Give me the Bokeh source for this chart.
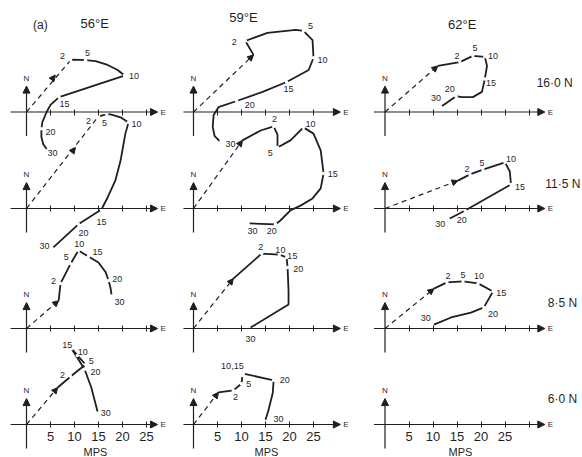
from bokeh.plotting import figure
from bokeh.layouts import row
from bokeh.models import Arrow, NormalHead, LinearAxis, FixedTicker
from bokeh.embed import file_html
from bokeh.resources import INLINE
from bokeh.core.properties import value

# ---------------- chart values (m/s) ----------------
longitudes = ["56°E", "59°E", "62°E"]
latitudes = ["16·0 N", "11·5 N", "8·5 N", "6·0 N"]
panel_tag = "(a)"
axis_unit = "MPS"
e_ticks = [5, 10, 15, 20, 25, 30]
e_tick_labels = ["5", "10", "15", "20", "25", ""]

# 56°E, 16·0 N
a1_dash = [9.2, 10.8]
a1_arrow = [6.0, 7.7]
a1_u = [9.2, 9.8, 12.3, 14.4, 16.9, 19.0, 20.4, 6.8, 5.0, 4.2, 3.3, 3.1, 3.1, 3.5, 4.2]
a1_v = [10.8, 10.9, 10.8, 10.6, 9.8, 8.75, 7.6, 3.1, 1.5, 0.0, -2.1, -3.5, -5.2, -6.7, -7.7]
a1_lev_u = [9.2, 12.3, 20.4, 6.8, 3.1, 4.2]
a1_lev_v = [10.8, 10.8, 7.6, 3.1, -3.5, -7.7]
a1_lab = ["2", "5", "10", "15", "20", "30"]
a1_lab_u = [7.5, 12.7, 22.4, 7.9, 5.0, 5.4]
a1_lab_v = [11.6, 12.3, 7.5, 1.7, -4.2, -8.6]

# 56°E, 11·5 N
a2_dash = [15.0, 19.2]
a2_arrow = [10.2, 12.7]
a2_u = [15.0, 16.7, 17.5, 19.6, 21.25, 20.6, 19.6, 18.5, 16.9, 15.6, 10.8, 5.6]
a2_v = [19.2, 19.6, 19.6, 19.0, 17.9, 15.6, 10.0, 5.8, 2.3, -0.2, -3.3, -8.1]
a2_lev_u = [15.0, 16.7, 21.25, 15.6, 10.8, 5.6]
a2_lev_v = [19.2, 19.6, 17.9, -0.2, -3.3, -8.1]
a2_lab = ["2", "5", "10", "15", "20", "30"]
a2_lab_u = [12.9, 16.25, 22.9, 15.6, 11.9, 3.75]
a2_lab_v = [18.3, 17.9, 17.7, -2.9, -5.2, -7.9]

# 56°E, 8·5 N
a3_dash = [6.7, 5.8]
a3_arrow = [6.7, 5.8]
a3_u = [6.7, 7.1, 9.2, 10.8, 12.9, 15.0, 16.5, 17.1, 17.5, 17.7]
a3_v = [5.8, 9.4, 13.5, 16.25, 15.0, 13.75, 11.7, 10.0, 8.5, 7.1]
a3_lev_u = [7.1, 9.2, 10.8, 12.9, 17.1, 17.7]
a3_lev_v = [9.4, 13.5, 16.25, 15.0, 10.0, 7.1]
a3_lab = ["2", "5", "10", "15", "20", "30"]
a3_lab_u = [5.6, 8.3, 11.0, 14.8, 18.9, 19.4]
a3_lab_v = [10.0, 14.8, 17.7, 16.0, 10.4, 5.6]

# 56°E, 6·0 N
a4_dash = [6.5, 7.7]
a4_arrow = [6.5, 7.7]
a4_u = [6.5, 9.2, 12.3, 10.6, 9.4, 12.1, 13.5, 14.8]
a4_v = [7.7, 10.0, 12.5, 14.4, 15.8, 11.5, 7.7, 2.7]
a4_lev_u = [9.2, 12.3, 10.6, 9.4, 12.1, 14.8]
a4_lev_v = [10.0, 12.5, 14.4, 15.8, 11.5, 2.7]
a4_lab = ["2", "5", "10", "15", "20", "30"]
a4_lab_u = [7.5, 13.5, 11.7, 8.5, 14.4, 16.5]
a4_lab_v = [10.4, 13.3, 15.2, 16.5, 11.0, 2.3]

# 59°E, 16·0 N
b1_dash = [12.5, 11.9]
b1_arrow = [12.5, 11.9]
b1_u = [12.5, 10.8, 15.4, 21.3, 22.9, 24.8, 25.0, 24.0, 19.4, 14.4, 9.0, 5.2, 4.2, 4.0, 4.4, 5.4]
b1_v = [11.9, 14.8, 16.5, 17.1, 16.9, 15.0, 11.3, 8.75, 6.25, 4.2, 2.3, 1.0, -0.6, -3.1, -5.0, -6.0]
b1_lev_u = [10.8, 22.9, 25.0, 19.4, 9.0, 5.4]
b1_lev_v = [14.8, 16.9, 11.3, 6.25, 2.3, -6.0]
b1_lab = ["2", "5", "10", "15", "20", "30"]
b1_lab_u = [8.5, 24.4, 26.9, 19.8, 11.7, 7.7]
b1_lab_v = [14.6, 17.9, 10.8, 4.8, 1.5, -6.7]

# 59°E, 11·5 N
b2_dash = [10.2, 14.2]
b2_arrow = [10.2, 14.2]
b2_u = [10.2, 14.0, 16.7, 17.5, 17.5, 20.2, 22.9, 25.0, 26.5, 27.1, 26.5, 24.8, 22.3, 20.2, 18.1, 17.1, 11.7]
b2_v = [14.2, 16.25, 17.1, 15.4, 12.7, 14.2, 16.9, 15.6, 12.1, 7.3, 4.2, 2.1, 0.6, -0.4, -2.5, -3.3, -3.1]
b2_lev_u = [16.7, 17.5, 22.9, 27.1, 17.1, 11.7]
b2_lev_v = [17.1, 12.7, 16.9, 7.3, -3.3, -3.1]
b2_lab = ["2", "5", "10", "15", "20", "30"]
b2_lab_u = [16.9, 16.0, 24.4, 29.0, 16.3, 12.3]
b2_lab_v = [18.6, 11.5, 17.7, 7.1, -4.6, -4.6]

# 59°E, 8·5 N
b3_dash = [8.3, 10.4]
b3_arrow = [8.3, 10.4]
b3_u = [8.3, 14.2, 17.9, 19.4, 19.6, 19.8, 19.8, 11.9]
b3_v = [10.4, 15.6, 15.4, 14.8, 12.7, 7.9, 5.0, 0.2]
b3_lev_u = [14.2, 17.9, 19.4, 19.6, 11.9]
b3_lev_v = [15.6, 15.4, 14.8, 12.7, 0.2]
b3_lab = ["2", "10", "15", "20", "30"]
b3_lab_u = [14.0, 18.1, 20.6, 21.8, 11.9]
b3_lab_v = [16.9, 16.4, 15.2, 12.5, -2.1]

# 59°E, 6·0 N
b4_dash = [5.2, 6.7]
b4_arrow = [5.2, 6.7]
b4_u = [5.2, 8.3, 10.0, 10.2, 10.4, 16.7, 16.5, 15.6, 15.0]
b4_v = [6.7, 7.1, 8.5, 10.2, 10.6, 9.2, 6.5, 2.9, 1.0]
b4_lev_u = [8.3, 10.0, 10.2, 10.4, 16.7, 15.0]
b4_lev_v = [7.1, 8.5, 10.2, 10.6, 9.2, 1.0]
b4_lab = ["2", "5", "10,15", "20", "30"]
b4_lab_u = [8.75, 11.5, 8.1, 19.0, 17.7]
b4_lab_v = [5.8, 8.5, 12.1, 9.2, 1.25]

# 62°E, 16·0 N
c1_dash = [11.0, 9.6]
c1_arrow = [11.0, 9.6]
c1_u = [11.0, 15.6, 18.3, 20.8, 21.25, 20.8, 20.2, 18.3, 16.0, 14.8, 11.9]
c1_v = [9.6, 10.4, 11.7, 11.5, 9.6, 6.9, 4.2, 3.1, 3.1, 3.3, 1.25]
c1_lev_u = [15.6, 18.3, 20.8, 20.8, 14.8, 11.9]
c1_lev_v = [10.4, 11.7, 11.5, 6.9, 3.3, 1.25]
c1_lab = ["2", "5", "10", "15", "20", "30"]
c1_lab_u = [15.0, 18.75, 22.5, 22.1, 13.5, 10.6]
c1_lab_v = [11.7, 13.3, 11.7, 6.0, 4.8, 2.9]

# 62°E, 11·5 N
c2_dash = [15.2, 5.8]
c2_arrow = [15.2, 5.8]
c2_u = [15.2, 17.7, 20.4, 25.0, 26.0, 26.25, 16.7, 13.5]
c2_v = [5.8, 7.1, 8.1, 9.6, 7.7, 5.0, -0.4, -2.1]
c2_lev_u = [17.7, 20.4, 25.0, 26.25, 16.7, 13.5]
c2_lev_v = [7.1, 8.1, 9.6, 5.0, -0.4, -2.1]
c2_lab = ["2", "5", "10", "15", "20", "30"]
c2_lab_u = [17.1, 20.2, 26.25, 28.1, 16.0, 11.5]
c2_lab_v = [8.3, 9.4, 10.4, 4.4, -2.3, -3.3]

# 62°E, 8·5 N
c3_dash = [10.2, 8.3]
c3_arrow = [10.2, 8.3]
c3_u = [10.2, 12.9, 16.25, 19.4, 22.5, 20.6, 17.9, 13.75, 10.2]
c3_v = [8.3, 9.6, 9.8, 9.4, 7.7, 4.4, 3.3, 2.3, 0.8]
c3_lev_u = [12.9, 16.25, 19.4, 22.5, 20.6, 10.2]
c3_lev_v = [9.6, 9.8, 9.4, 7.7, 4.4, 0.8]
c3_lab = ["2", "5", "10", "15", "20", "30"]
c3_lab_u = [13.1, 16.25, 19.6, 24.2, 22.5, 8.5]
c3_lab_v = [10.9, 11.1, 10.9, 7.5, 3.1, 2.1]

# 62°E, 6·0 N : axes only, no hodograph

panels = {
    (0, 0): (a1_dash, a1_arrow, a1_u, a1_v, a1_lev_u, a1_lev_v, a1_lab, a1_lab_u, a1_lab_v),
    (0, 1): (a2_dash, a2_arrow, a2_u, a2_v, a2_lev_u, a2_lev_v, a2_lab, a2_lab_u, a2_lab_v),
    (0, 2): (a3_dash, a3_arrow, a3_u, a3_v, a3_lev_u, a3_lev_v, a3_lab, a3_lab_u, a3_lab_v),
    (0, 3): (a4_dash, a4_arrow, a4_u, a4_v, a4_lev_u, a4_lev_v, a4_lab, a4_lab_u, a4_lab_v),
    (1, 0): (b1_dash, b1_arrow, b1_u, b1_v, b1_lev_u, b1_lev_v, b1_lab, b1_lab_u, b1_lab_v),
    (1, 1): (b2_dash, b2_arrow, b2_u, b2_v, b2_lev_u, b2_lev_v, b2_lab, b2_lab_u, b2_lab_v),
    (1, 2): (b3_dash, b3_arrow, b3_u, b3_v, b3_lev_u, b3_lev_v, b3_lab, b3_lab_u, b3_lab_v),
    (1, 3): (b4_dash, b4_arrow, b4_u, b4_v, b4_lev_u, b4_lev_v, b4_lab, b4_lab_u, b4_lab_v),
    (2, 0): (c1_dash, c1_arrow, c1_u, c1_v, c1_lev_u, c1_lev_v, c1_lab, c1_lab_u, c1_lab_v),
    (2, 1): (c2_dash, c2_arrow, c2_u, c2_v, c2_lev_u, c2_lev_v, c2_lab, c2_lab_u, c2_lab_v),
    (2, 2): (c3_dash, c3_arrow, c3_u, c3_v, c3_lev_u, c3_lev_v, c3_lab, c3_lab_u, c3_lab_v),
}

# ---------------- layout / style ----------------
INK = "#1f1f1f"
FONT = "Liberation Sans"
SCALE = 4.8                       # px per m/s
FIG_H = 457
fig_w = [180, 193, 209]
x_start = [-5.417, -2.708, -2.396]
y_start = -6.875
row_off = [65.1, 45.0, 20.0, 0.0]
e_left = [-3.3, -2.1, -2.3]
e_right = [27.3, 30.6, 33.3]
n_ticks = [5, 5, 6]
mps_mid = [14.4, 15.2, 15.7]
tag_pos = (2.9, 83.3)
head_pos = [(14.2, 83.5), (10.4, 84.8), (16.1, 83.3)]
lat_x = [31.6, 33.4, 33.9, 33.9]
lat_dy = [6.1, 5.2, 5.4, 5.4]


def txt(p, x, y, t, size, align="center", baseline="middle"):
    p.text(x=x, y=y, text=t, text_font=value(FONT), text_font_size=size,
           text_color=INK, text_align=align, text_baseline=baseline)


figs = []
for c in range(3):
    p = figure(width=fig_w[c], height=FIG_H,
               x_range=(x_start[c], x_start[c] + fig_w[c] / SCALE),
               y_range=(y_start, y_start + FIG_H / SCALE),
               x_axis_location=None, y_axis_location=None,
               toolbar_location=None, output_backend="svg",
               min_border=0, outline_line_color=None,
               background_fill_color="white", border_fill_color="white")
    for g in list(p.center):
        g.visible = False

    # column heading
    if c == 0:
        txt(p, [tag_pos[0]], [tag_pos[1]], [panel_tag], "12px")
    txt(p, [head_pos[c][0]], [head_pos[c][1]], [longitudes[c]], "13px")

    for r in range(4):
        yo = row_off[r]
        # E axis line with arrow
        p.add_layout(Arrow(x_start=e_left[c], y_start=yo, x_end=e_right[c], y_end=yo,
                           line_color=INK, line_width=1.2,
                           end=NormalHead(size=7, line_color=INK, fill_color=INK)))
        ticks = e_ticks[:n_ticks[c]]
        if r == 3:
            over = {t: l for t, l in zip(e_ticks, e_tick_labels)}
        else:
            over = {t: "" for t in e_ticks}
        ax = LinearAxis(fixed_location=yo, ticker=FixedTicker(ticks=ticks),
                        bounds=(0, 2 * mps_mid[c]),
                        major_label_overrides=over,
                        axis_line_color=None,
                        major_tick_in=3, major_tick_out=3,
                        major_tick_line_color=INK, major_tick_line_width=1,
                        minor_tick_line_color=None,
                        major_label_text_font=FONT,
                        major_label_text_font_size="13px",
                        major_label_text_color=INK,
                        major_label_standoff=4)
        if r == 3:
            ax.axis_label = axis_unit
            ax.axis_label_text_font = FONT
            ax.axis_label_text_font_size = "11px"
            ax.axis_label_text_font_style = "normal"
            ax.axis_label_text_color = INK
            ax.axis_label_standoff = 2
        p.add_layout(ax, "below")

        # N axis with arrow
        p.add_layout(Arrow(x_start=0, y_start=yo - 5.0, x_end=0, y_end=yo + 5.4,
                           line_color=INK, line_width=1.2,
                           end=NormalHead(size=7, line_color=INK, fill_color=INK)))
        txt(p, [0], [yo + 7.0], ["N"], "8px")
        txt(p, [e_right[c] + 0.6], [yo], ["E"], "8px", align="left")

        if c == 2:
            txt(p, [lat_x[r]], [yo + lat_dy[r]], [latitudes[r]], "12px", align="left")

        d = panels.get((c, r))
        if d is None:
            continue
        dash, arr, u, v, lu, lv, lab, lbu, lbv = d
        # surface-wind vector (dashed) with arrow mark
        p.line([0, dash[0]], [yo, yo + dash[1]], line_color=INK, line_width=1.2,
               line_dash="5 4")
        p.add_layout(Arrow(x_start=0, y_start=yo, x_end=arr[0], y_end=yo + arr[1],
                           line_alpha=0,
                           end=NormalHead(size=6, line_color=INK, fill_color=INK)))
        # hodograph
        p.line(u, [yo + vv for vv in v], line_color=INK, line_width=1.8)
        # small breaks at level points
        p.scatter(lu[:-1], [yo + vv for vv in lv[:-1]], size=3.5,
                  fill_color="white", line_color=None)
        txt(p, lbu, [yo + vv for vv in lbv], lab, "9px")

    figs.append(p)

layout = row(*figs)
open("out.html", "w").write(file_html(layout, INLINE))
